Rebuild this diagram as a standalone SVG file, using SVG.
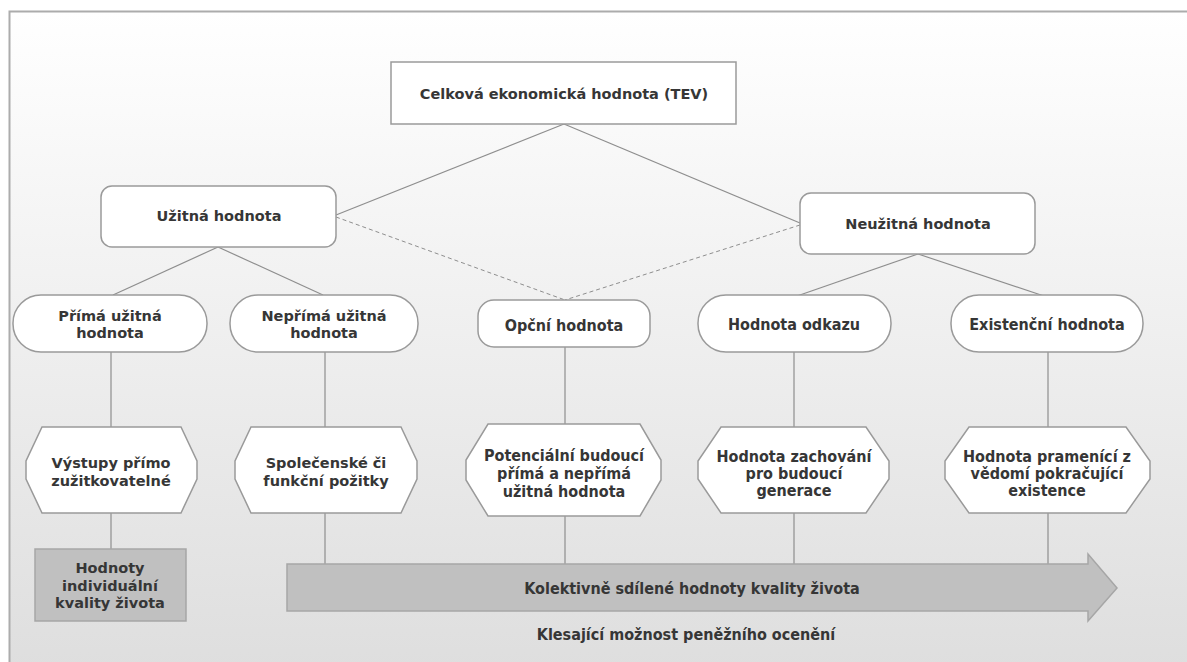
<svg xmlns="http://www.w3.org/2000/svg" width="1187" height="662" viewBox="0 0 1187 662">
<defs>
<linearGradient id="bg" x1="0" y1="0" x2="0" y2="1">
<stop offset="0" stop-color="#ffffff"/>
<stop offset="1" stop-color="#dcdcdc"/>
</linearGradient>
</defs>
<style>
.node{fill:#ffffff;stroke:#9a9a9a;stroke-width:1.5}
.grey{fill:#c0c0c0;stroke:#a6a6a6;stroke-width:1.5}
.ln{stroke:#8e8e8e;stroke-width:1.2;fill:none}
.dash{stroke:#8e8e8e;stroke-width:1;fill:none;stroke-dasharray:4 3}
.t{font-family:"DejaVu Sans",Verdana,sans-serif;font-weight:bold;font-size:14.5px;fill:#363636;text-anchor:middle;dominant-baseline:central}
.c{font-family:"DejaVu Sans Condensed","DejaVu Sans",sans-serif;font-stretch:condensed;font-weight:bold;font-size:16px;fill:#363636;text-anchor:middle;dominant-baseline:central}
</style>
<rect x="0" y="0" width="1187" height="662" fill="#ffffff"/>
<rect x="9.5" y="11.5" width="1200" height="700" fill="url(#bg)" stroke="#acacac" stroke-width="2"/>

<g id="connectors">
<line class="ln" x1="564" y1="124" x2="336" y2="215"/>
<line class="ln" x1="564" y1="124" x2="800" y2="223"/>
<line class="dash" x1="336" y1="217" x2="565" y2="300"/>
<line class="dash" x1="800" y1="225" x2="565" y2="300"/>
<line class="ln" x1="218" y1="247" x2="113" y2="295"/>
<line class="ln" x1="218" y1="247" x2="323" y2="295"/>
<line class="ln" x1="918" y1="254" x2="797" y2="296"/>
<line class="ln" x1="918" y1="254" x2="1044" y2="296"/>
<line class="ln" x1="111" y1="352" x2="111" y2="427"/>
<line class="ln" x1="111" y1="513" x2="111" y2="549"/>
<line class="ln" x1="325" y1="352" x2="325" y2="427"/>
<line class="ln" x1="325" y1="513" x2="325" y2="564"/>
<line class="ln" x1="565" y1="347" x2="565" y2="424"/>
<line class="ln" x1="565" y1="516" x2="565" y2="564"/>
<line class="ln" x1="794" y1="352" x2="794" y2="427"/>
<line class="ln" x1="794" y1="513" x2="794" y2="564"/>
<line class="ln" x1="1048" y1="352" x2="1048" y2="427"/>
<line class="ln" x1="1048" y1="513" x2="1048" y2="564"/>
</g>

<g id="tev">
<rect class="node" x="391" y="62" width="345" height="62"/>
<text class="t" x="564" y="94">Celková ekonomická hodnota (TEV)</text>
</g>
<g id="uzitna">
<rect class="node" x="101" y="186" width="235" height="61" rx="11"/>
<text class="t" x="219" y="216">Užitná hodnota</text>
</g>
<g id="neuzitna">
<rect class="node" x="800" y="193" width="235" height="61" rx="11"/>
<text class="t" x="918" y="224">Neužitná hodnota</text>
</g>

<g id="prima">
<rect class="node" x="13" y="295" width="194" height="57" rx="28"/>
<text class="t" x="110" y="316">Přímá užitná</text>
<text class="t" x="110" y="333">hodnota</text>
</g>
<g id="neprima">
<rect class="node" x="230" y="295" width="188" height="57" rx="28"/>
<text class="t" x="324" y="316">Nepřímá užitná</text>
<text class="t" x="324" y="333">hodnota</text>
</g>
<g id="opcni">
<rect class="node" x="478" y="300" width="172" height="47" rx="16"/>
<text class="c" x="564" y="325">Opční hodnota</text>
</g>
<g id="odkaz">
<rect class="node" x="698" y="295" width="193" height="57" rx="28"/>
<text class="c" x="794" y="324">Hodnota odkazu</text>
</g>
<g id="existencni">
<rect class="node" x="951" y="295" width="192" height="57" rx="28"/>
<text class="c" x="1047" y="324">Existenční hodnota</text>
</g>

<g id="vystupy">
<polygon class="node" points="42,427 181,427 197,461 197,479 181,513 42,513 26,479 26,461"/>
<text class="t" x="111" y="463">Výstupy přímo</text>
<text class="t" x="111" y="481">zužitkovatelné</text>
</g>
<g id="spolecenske">
<polygon class="node" points="251,427 401,427 417,461 417,479 401,513 251,513 235,479 235,461"/>
<text class="t" x="326" y="463">Společenské či</text>
<text class="t" x="326" y="481">funkční požitky</text>
</g>
<g id="potencialni">
<polygon class="node" points="488,424 640,424 661,460 661,480 640,516 488,516 466,480 466,460"/>
<text class="c" x="564" y="455">Potenciální budoucí</text>
<text class="c" x="564" y="473">přímá a nepřímá</text>
<text class="c" x="564" y="491">užitná hodnota</text>
</g>
<g id="zachovani">
<polygon class="node" points="721,427 866,427 889,461 889,479 866,513 721,513 698,479 698,461"/>
<text class="c" x="794" y="456">Hodnota zachování</text>
<text class="c" x="794" y="473">pro budoucí</text>
<text class="c" x="794" y="490">generace</text>
</g>
<g id="pramenici">
<polygon class="node" points="969,427 1126,427 1150,461 1150,479 1126,513 969,513 945,479 945,461"/>
<text class="c" x="1047" y="456">Hodnota pramenící z</text>
<text class="c" x="1047" y="473">vědomí pokračující</text>
<text class="c" x="1047" y="490">existence</text>
</g>

<g id="individualni">
<rect class="grey" x="35" y="549" width="151" height="72"/>
<text class="t" x="110" y="568" fill="#444">Hodnoty</text>
<text class="t" x="110" y="586">individuální</text>
<text class="t" x="110" y="603">kvality života</text>
</g>
<g id="kolektivni">
<polygon class="grey" points="287,564 1088,564 1088,554 1117,588 1088,621 1088,611 287,611"/>
<text class="c" x="692" y="588">Kolektivně sdílené hodnoty kvality života</text>
</g>
<g id="klesajici">
<text class="c" x="686" y="634">Klesající možnost peněžního ocenění</text>
</g>
</svg>
